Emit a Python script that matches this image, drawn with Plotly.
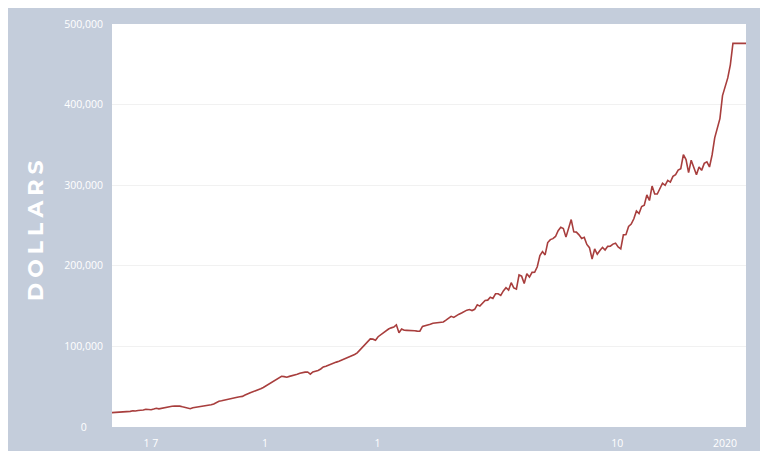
import pandas as pd
import plotly.graph_objects as go

# Quarterly median sales price (thousands of dollars), 1963Q1 onward
prices_k = [
    17.8, 18.0, 17.9, 18.5,   # 1963
    18.5, 18.9, 18.9, 19.4,   # 1964
    20.2, 19.8, 20.5, 20.7,   # 1965
    21.0, 22.1, 21.5, 21.4,   # 1966
    22.3, 23.3, 22.5, 23.3,   # 1967
    23.4, 24.6, 24.9, 25.7,   # 1968
    25.9, 26.0, 25.9, 25.0,   # 1969
    24.3, 23.6, 22.6, 23.8,   # 1970
    24.3, 25.3, 25.3, 25.7,   # 1971
    26.0, 26.9, 27.6, 28.6,   # 1972
    30.2, 32.0, 32.5, 33.4,   # 1973
    34.2, 35.0, 35.6, 36.4,   # 1974
    37.0, 37.6, 38.0, 39.6,   # 1975
    41.4, 42.6, 43.8, 44.8,   # 1976
    46.0, 47.5, 49.0, 51.0,   # 1977
    52.0, 54.8, 56.0, 58.5,   # 1978
    60.5, 63.0, 62.5, 61.8,   # 1979
    62.8, 63.5, 64.3, 65.4,   # 1980
    66.6, 67.5, 68.1, 68.3,   # 1981
    65.5, 68.4, 69.1, 70.2,   # 1982
    72.0, 74.5, 75.5, 77.0,   # 1983
    78.0, 80.0, 80.5, 81.5,   # 1984
    83.0, 83.5, 85.0, 87.0,   # 1985
    88.5, 90.0, 92.0, 95.4,   # 1986
    99.5, 103.0, 106.0, 109.3,  # 1987
    109.0, 107.6, 112.0, 114.6,  # 1988
    117.0, 119.0, 121.6, 123.0,  # 1989
    123.9, 126.8, 117.0, 121.5,  # 1990
    120.0, 119.9, 120.0, 119.3,  # 1991
    119.5, 119.0, 118.8, 124.8,  # 1992
    125.5, 126.5, 127.5, 128.7,  # 1993
    129.0, 130.0, 129.5, 130.3,  # 1994
    132.5, 135.0, 137.3, 136.0,  # 1995
    138.5, 140.0, 141.5, 143.4,  # 1996
    145.0, 145.8, 144.5, 146.0,  # 1997
    151.5, 150.0, 153.0, 157.0,  # 1998
    157.4, 161.1, 159.6, 165.3,  # 1999
    165.3, 163.2, 168.8, 172.9,  # 2000
    169.8, 179.0, 172.5, 171.1,  # 2001
    188.7, 187.2, 178.1, 190.1,  # 2002
    186.0, 191.8, 191.9, 198.8,  # 2003
    212.7, 217.6, 213.5, 228.8,  # 2004
    232.5, 233.7, 236.4, 243.6,  # 2005
    247.7, 246.3, 235.6, 245.4,  # 2006
    257.4, 242.2, 241.8, 238.4,  # 2007
    233.9, 235.3, 226.5, 222.5,  # 2008
    208.4, 220.9, 214.3, 219.0,  # 2009
    222.9, 219.5, 224.1, 224.3,  # 2010
    226.9, 228.1, 223.5, 221.1,  # 2011
    238.4, 238.7, 248.8, 251.7,  # 2012
    258.4, 268.1, 264.8, 273.6,  # 2013
    275.2, 288.0, 281.0, 298.9,  # 2014
    289.2, 289.1, 295.8, 302.5,  # 2015
    299.8, 306.0, 303.8, 310.9,  # 2016
    313.1, 318.7, 320.5, 337.9,  # 2017
    331.8, 315.6, 330.9, 322.8,  # 2018
    313.0, 322.5, 318.4, 327.1,  # 2019
    329.0, 322.6, 337.5, 358.7,  # 2020
    369.8, 382.6, 411.2, 423.6,  # 2021
    433.1, 449.3, 476.0, 476.0,  # 2022
    476.0, 476.0, 476.0, 476.0,  # 2023
]
prices = [v * 1000 for v in prices_k]
quarters = pd.date_range("1963-01-01", periods=len(prices), freq="QS")

y_tickvals = [0, 100000, 200000, 300000, 400000, 500000]
y_ticktext = ["0" + "\u00a0" * 6, "100,000", "200,000", "300,000", "400,000", "500,000"]
x_tickvals = ["1966-09-20", "1977-08-28", "1988-06-13", "2011-05-27", "2021-09-26"]
x_ticktext = ["1 7", "1", "1", "10", "2020"]

BG = "#c4cddb"
LINE = "#a83e3d"
FONT = "Open Sans"

fig = go.Figure()
fig.add_trace(go.Scatter(
    x=quarters, y=prices, mode="lines",
    line=dict(color=LINE, width=1.6),
    hoverinfo="skip", showlegend=False,
))

# page body has an 8px margin; figure occupies screen px 8..762, 8..451
W, H = 754, 443
L, R, T, B = 104, 16, 16, 24
pw, ph = W - L - R, H - T - B

fig.add_annotation(
    xref="paper", yref="paper",
    x=(35 - 8 - L) / pw, y=(H - B - (229 - 8)) / ph,
    text='<span style="letter-spacing:5px">DOLLARS</span>',
    textangle=-90, showarrow=False,
    font=dict(family="Montserrat, Lato, sans-serif", size=22, color="white", weight="bold"),
    xanchor="center", yanchor="middle",
)

fig.update_layout(
    width=W, height=H,
    margin=dict(l=L, r=R, t=T, b=B, pad=0, autoexpand=False),
    paper_bgcolor=BG,
    plot_bgcolor="white",
    font=dict(family=FONT, color="white", size=10),
    xaxis=dict(
        range=[quarters[0], quarters[-1]],
        tickvals=x_tickvals, ticktext=x_ticktext,
        showgrid=False, zeroline=False, showline=False,
        ticks="", tickfont=dict(family=FONT, size=10.5, color="white"),
        ticklabelstandoff=8, automargin=False,
    ),
    yaxis=dict(
        range=[0, 500000],
        tickvals=y_tickvals, ticktext=y_ticktext,
        showgrid=True, gridcolor="#f1f1f1", gridwidth=1,
        zeroline=False, showline=False, ticks="",
        tickfont=dict(family=FONT, size=10.5, color="white"),
        ticklabelstandoff=8, automargin=False,
    ),
)

fig.write_html("out.html")
